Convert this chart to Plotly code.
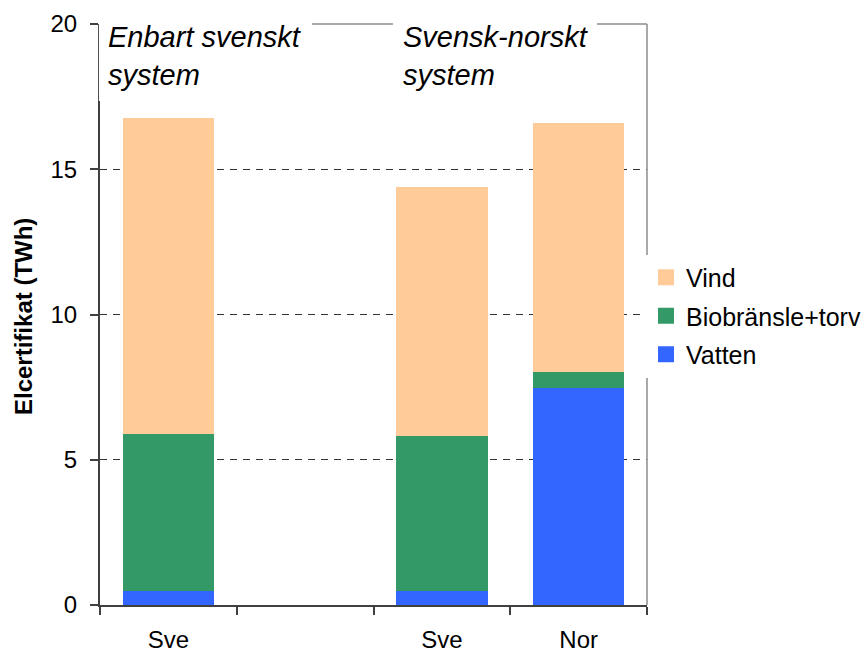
import plotly.graph_objects as go

categories = ["Sve", "", "Sve", "Nor"]
vatten = [0.47, None, 0.47, 7.47]
bio = [5.41, None, 5.35, 0.55]
vind = [10.89, None, 8.57, 8.57]
series_names = ["Vatten", "Biobränsle+torv", "Vind"]
colors = ["#3366FF", "#339966", "#FFCC99"]
y_ticks = [0, 5, 10, 15, 20]
group_labels = [["Enbart svenskt", "system"], ["Svensk-norskt", "system"]]

FONT = "Liberation Sans, Arial, sans-serif"
W, H = 863, 652
L, R, T, B = 100, 216, 24, 47
PW, PH = W - L - R, H - T - B


def px(x):
    return (x - L) / PW


def py(y):
    return (H - B - y) / PH


xpos = list(range(len(categories)))
fig = go.Figure()
for name, vals, col in zip(series_names, [vatten, bio, vind], colors):
    fig.add_trace(go.Bar(x=xpos, y=vals, name=name, marker=dict(color=col, line=dict(width=0)),
                         width=0.67, showlegend=False))
# legend proxies (larger square swatches)
for i, (name, col) in enumerate(reversed(list(zip(series_names, colors)))):
    fig.add_trace(go.Scatter(x=[None], y=[None], mode="markers", name=name,
                             marker=dict(symbol="square", size=16, color=col),
                             legendgroup=f"g{i}"))

fig.update_layout(
    width=W, height=H, barmode="stack",
    margin=dict(l=L, r=R, t=T, b=B, pad=0, autoexpand=False),
    paper_bgcolor="white", plot_bgcolor="white",
    font=dict(family=FONT, size=24, color="black"),
    showlegend=True,
    legend=dict(x=px(646), y=py(254.5), xanchor="left", yanchor="top",
                bgcolor="white", traceorder="grouped", tracegroupgap=3,
                font=dict(size=25), borderwidth=0, itemwidth=30),
    xaxis=dict(range=[-0.5, 3.5], tickmode="array", tickvals=xpos, ticktext=categories,
               ticks="outside", ticklen=0, showgrid=False, zeroline=False,
               showline=True, linecolor="#404040", linewidth=2, automargin=False,
               ticklabelstandoff=12,
               minor=dict(tickmode="linear", tick0=-0.5, dtick=1, ticks="outside",
                          ticklen=8, tickwidth=1.5, tickcolor="#404040", showgrid=False)),
    yaxis=dict(range=[0, 20], tickmode="array", tickvals=y_ticks, automargin=False,
               ticks="outside", ticklen=8, tickwidth=1.5, tickcolor="#404040",
               showline=True, linecolor="#404040", linewidth=2, zeroline=False,
               showgrid=True, gridcolor="#333333", gridwidth=1, griddash="7px,6px",
               ticklabelstandoff=8),
)

shapes = [
    # top and right frame
    dict(type="line", xref="paper", yref="paper", x0=0, x1=1, y0=1, y1=1,
         line=dict(color="#8c8c8c", width=1.5), layer="above"),
    dict(type="line", xref="paper", yref="paper", x0=1, x1=1, y0=0, y1=1,
         line=dict(color="#8c8c8c", width=1.5), layer="above"),
    # white text boxes
    dict(type="rect", xref="paper", yref="paper", x0=-0.002, x1=px(312), y0=py(101), y1=py(12),
         fillcolor="white", line=dict(width=0), layer="above"),
    dict(type="rect", xref="paper", yref="paper", x0=px(393), x1=px(597), y0=py(101), y1=py(12),
         fillcolor="white", line=dict(width=0), layer="above"),
]
fig.update_layout(shapes=shapes)

anns = []
for (l1, l2), xl in zip(group_labels, [106, 401]):
    anns.append(dict(text=f"<i>{l1}</i>", x=px(xl), y=py(37), xref="paper", yref="paper",
                     xanchor="left", yanchor="middle", showarrow=False, font=dict(size=29)))
    anns.append(dict(text=f"<i>{l2}</i>", x=px(xl), y=py(75), xref="paper", yref="paper",
                     xanchor="left", yanchor="middle", showarrow=False, font=dict(size=29)))
anns.append(dict(text="<b>Elcertifikat (TWh)</b>", textangle=-90, x=px(23), y=py(317),
                 xref="paper", yref="paper", xanchor="center", yanchor="middle",
                 showarrow=False, font=dict(size=24)))
fig.update_layout(annotations=anns)

fig.write_html("out.html", config={"displayModeBar": False},
               post_script="document.body.style.margin='0';")
